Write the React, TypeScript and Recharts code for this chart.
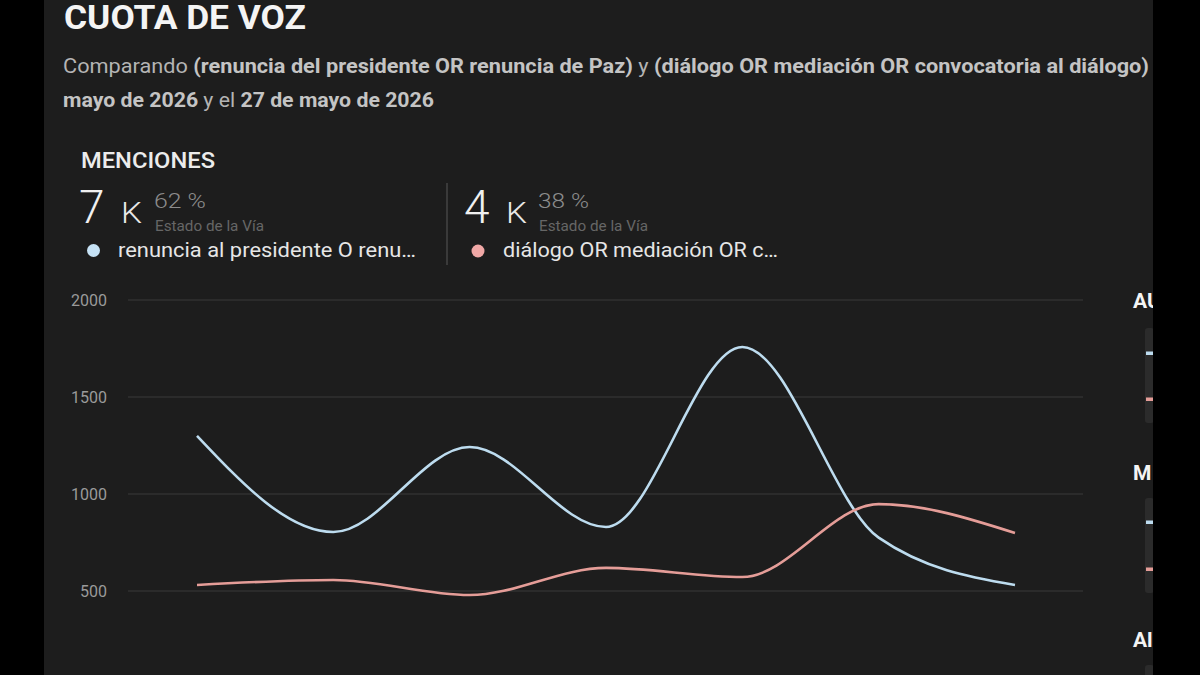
import React from 'react';
import { LineChart, Line, XAxis, YAxis, CartesianGrid } from 'recharts';

const days = ['21 may', '22 may', '23 may', '24 may', '25 may', '26 may', '27 may'];
const renunciaSeries = [1300, 804, 1242, 830, 1758, 775, 531];
const dialogoSeries = [531, 557, 479, 619, 572, 948, 799];
const yTicks = [500, 1000, 1500, 2000];

const BLUE = '#bddcef';
const PINK = '#e59d98';

const data = days.map((d, i) => ({ day: d, renuncia: renunciaSeries[i], dialogo: dialogoSeries[i] }));

const FONT = 'Roboto, "Noto Sans", sans-serif';
const SA = 'spacingAndGlyphs';

export default function App() {
  return (
    <div style={{ position: 'fixed', left: 0, top: 0, width: 1200, height: 675, overflow: 'hidden', background: '#000', fontFamily: FONT }}>
      <div style={{ position: 'absolute', left: 44, top: 0, width: 1109, height: 675, background: '#1d1d1d' }} />
      <div style={{ position: 'absolute', left: 0, top: 0 }}>
        <LineChart width={1200} height={700} data={data} margin={{ top: 300, right: 117, bottom: 12, left: 0 }}>
          <CartesianGrid vertical={false} stroke="#3a3a3a" strokeWidth={1.2} />
          <XAxis dataKey="day" hide padding={{ left: 69, right: 68 }} />
          <YAxis
            width={128}
            domain={[0, 2000]}
            ticks={yTicks}
            axisLine={false}
            tickLine={false}
            tickSize={0}
            tickMargin={21}
            tick={{ fill: '#9a9a9a', fontSize: 16, fontFamily: FONT }}
          />
          <Line type="monotone" dataKey="renuncia" stroke={BLUE} strokeWidth={2.6} dot={false} isAnimationActive={false} />
          <Line type="monotone" dataKey="dialogo" stroke={PINK} strokeWidth={2.6} dot={false} isAnimationActive={false} />
        </LineChart>
      </div>
      <svg width={1200} height={675} style={{ position: 'absolute', left: 0, top: 0, fontFamily: FONT }}>
        <text x={64} y={28.5} fontSize={34} fontWeight={700} fill="#f4f4f4" textLength={242} lengthAdjust={SA}>CUOTA DE VOZ</text>
        <text x={63} y={73} fontSize={20.5} fill="#b4b4b4" textLength={1086} lengthAdjust={SA}>
          Comparando <tspan fontWeight={700} fill="#c4c4c4">(renuncia del presidente OR renuncia de Paz)</tspan> y <tspan fontWeight={700} fill="#c4c4c4">(diálogo OR mediación OR convocatoria al diálogo)</tspan>
        </text>
        <text x={63} y={107} fontSize={20.5} fill="#b4b4b4" textLength={371} lengthAdjust={SA}>
          <tspan fontWeight={700} fill="#c4c4c4">mayo de 2026</tspan> y el <tspan fontWeight={700} fill="#c4c4c4">27 de mayo de 2026</tspan>
        </text>

        <text x={81} y={168} fontSize={22} fontWeight={500} fill="#ececec" textLength={134} lengthAdjust={SA}>MENCIONES</text>

        <text x={79} y={223} fontSize={46} fontWeight={300} fill="#f0f0f0">7</text>
        <text x={121} y={223} fontSize={29} fontWeight={300} fill="#e8e8e8" textLength={21} lengthAdjust={SA}>K</text>
        <text x={154} y={208} fontSize={21} fontWeight={300} fill="#8c8c8c" textLength={52} lengthAdjust={SA}>62 %</text>
        <text x={155} y={230.5} fontSize={15.5} fill="#666666" textLength={109} lengthAdjust={SA}>Estado de la Vía</text>
        <circle cx={93.5} cy={250.5} r={6.5} fill="#c6e2f5" />
        <text x={118} y={257} fontSize={20} fill="#e6e6e6" textLength={298} lengthAdjust={SA}>renuncia al presidente O renu…</text>

        <line x1={447} y1={183} x2={447} y2={265} stroke="#444444" strokeWidth={1.5} />

        <text x={464} y={223} fontSize={46} fontWeight={300} fill="#f0f0f0">4</text>
        <text x={506} y={223} fontSize={29} fontWeight={300} fill="#e8e8e8" textLength={21} lengthAdjust={SA}>K</text>
        <text x={538} y={208} fontSize={21} fontWeight={300} fill="#8c8c8c" textLength={51} lengthAdjust={SA}>38 %</text>
        <text x={539} y={230.5} fontSize={15.5} fill="#666666" textLength={109} lengthAdjust={SA}>Estado de la Vía</text>
        <circle cx={478} cy={251} r={6.5} fill="#f0a8a6" />
        <text x={503} y={257} fontSize={20} fill="#e6e6e6" textLength={275} lengthAdjust={SA}>diálogo OR mediación OR c…</text>

        <text x={1133} y={308} fontSize={21} fontWeight={700} fill="#f4f4f4">AU</text>
        <rect x={1145} y={328} width={9} height={95} rx={3} fill="#2b2b2b" />
        <rect x={1146} y={351.5} width={8} height={3.5} fill={BLUE} />
        <rect x={1146} y={397.5} width={8} height={3.5} fill={PINK} />

        <text x={1133} y={480} fontSize={21} fontWeight={700} fill="#f4f4f4">M</text>
        <rect x={1145} y={498} width={9} height={95} rx={3} fill="#2b2b2b" />
        <rect x={1146} y={520.5} width={8} height={3.5} fill={BLUE} />
        <rect x={1146} y={567.5} width={8} height={3.5} fill={PINK} />

        <text x={1133} y={647} fontSize={21} fontWeight={700} fill="#f4f4f4">Al</text>
        <rect x={1145} y={665} width={9} height={40} rx={3} fill="#2b2b2b" />
      </svg>
      <div style={{ position: 'absolute', left: 1153, top: 0, width: 47, height: 675, background: '#000' }} />
    </div>
  );
}
